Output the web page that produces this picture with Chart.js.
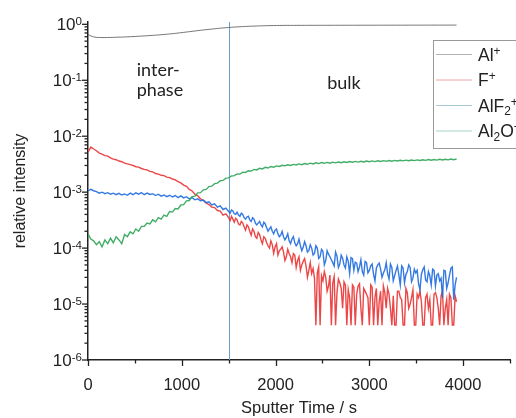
<!DOCTYPE html>
<html>
<head>
<meta charset="utf-8">
<title>ToF-SIMS depth profile</title>
<script src="https://cdn.jsdelivr.net/npm/chart.js@4"></script>
<style>
  html, body { margin: 0; padding: 0; background: #fff; }
</style>
</head>
<body>
<canvas id="depthProfile" width="516" height="418"></canvas>
<script>
// sputter time (s)
var time = [
  0, 30, 60, 90, 120, 150, 180, 210, 240, 270,
  300, 330, 360, 390, 420, 450, 480, 510, 540, 570,
  600, 630, 660, 690, 720, 750, 780, 810, 840, 870,
  900, 930, 960, 990, 1020, 1050, 1080, 1110, 1140, 1170,
  1200, 1230, 1260, 1290, 1320, 1350, 1380, 1410, 1440, 1470,
  1500, 1530, 1560, 1590, 1620, 1650, 1680, 1710, 1740, 1770,
  1800, 1830, 1860, 1890, 1920, 1950, 1980, 2010, 2040, 2070,
  2100, 2130, 2160, 2190, 2220, 2250, 2280, 2310, 2340, 2370,
  2400, 2430, 2460, 2490, 2520, 2550, 2580, 2610, 2640, 2670,
  2700, 2730, 2760, 2790, 2820, 2850, 2880, 2910, 2940, 2970,
  3000, 3030, 3060, 3090, 3120, 3150, 3180, 3210, 3240, 3270,
  3300, 3330, 3360, 3390, 3420, 3450, 3480, 3510, 3540, 3570,
  3600, 3630, 3660, 3690, 3720, 3750, 3780, 3810, 3840, 3870,
  3900, 3930
];

// extra in-between readings where F+ and AlF2+ get noisy
var halfStepTime = [
  1515, 1545, 1575, 1605, 1635, 1665, 1695, 1725, 1755, 1785,
  1815, 1845, 1875, 1905, 1935, 1965, 1995, 2025, 2055, 2085,
  2115, 2145, 2175, 2205, 2235, 2265, 2295, 2325, 2355, 2385,
  2415, 2445, 2475, 2505, 2535, 2565, 2595, 2625, 2655, 2685,
  2715, 2745, 2775, 2805, 2835, 2865, 2895, 2925, 2955, 2985,
  3015, 3045, 3075, 3105, 3135, 3165, 3195, 3225, 3255, 3285,
  3315, 3345, 3375, 3405, 3435, 3465, 3495, 3525, 3555, 3585,
  3615, 3645, 3675, 3705, 3735, 3765, 3795, 3825, 3855, 3885,
  3915
];

// relative intensities, one list per ion
var alPlus = [
  0.66, 0.62, 0.595, 0.585, 0.582, 0.58, 0.58, 0.581, 0.583, 0.585,
  0.587, 0.589, 0.591, 0.594, 0.597, 0.6, 0.604, 0.608, 0.612, 0.616,
  0.62, 0.625, 0.63, 0.635, 0.64, 0.646, 0.652, 0.658, 0.665, 0.672,
  0.68, 0.689, 0.698, 0.708, 0.718, 0.728, 0.738, 0.749, 0.76, 0.771,
  0.782, 0.792, 0.802, 0.812, 0.822, 0.832, 0.842, 0.852, 0.861, 0.869,
  0.877, 0.885, 0.892, 0.899, 0.905, 0.911, 0.916, 0.921, 0.926, 0.93,
  0.934, 0.938, 0.941, 0.944, 0.947, 0.949, 0.951, 0.953, 0.954, 0.955,
  0.956, 0.957, 0.956, 0.958, 0.957, 0.958, 0.959, 0.958, 0.959, 0.96,
  0.959, 0.96, 0.961, 0.96, 0.961, 0.96, 0.961, 0.962, 0.961, 0.962,
  0.962, 0.961, 0.962, 0.963, 0.962, 0.963, 0.962, 0.963, 0.963, 0.964,
  0.963, 0.964, 0.963, 0.964, 0.965, 0.964, 0.965, 0.964, 0.965, 0.965,
  0.966, 0.965, 0.966, 0.965, 0.966, 0.966, 0.967, 0.966, 0.967, 0.966,
  0.967, 0.967, 0.968, 0.967, 0.968, 0.967, 0.968, 0.968, 0.969, 0.968,
  0.969, 0.968
];

var fPlus = [
  5.2e-3, 6.4e-3, 5.9e-3, 5.5e-3, 5.0e-3, 4.8e-3, 4.5e-3, 4.4e-3, 4.1e-3, 3.9e-3,
  3.8e-3, 3.6e-3, 3.5e-3, 3.3e-3, 3.2e-3, 3.1e-3, 3.0e-3, 2.85e-3, 2.8e-3, 2.65e-3,
  2.55e-3, 2.5e-3, 2.35e-3, 2.3e-3, 2.15e-3, 2.1e-3, 2.0e-3, 1.98e-3, 1.86e-3, 1.82e-3,
  1.72e-3, 1.66e-3, 1.54e-3, 1.46e-3, 1.34e-3, 1.27e-3, 1.12e-3, 1.05e-3, 9.2e-4, 8.6e-4,
  7.6e-4, 7.1e-4, 6.4e-4, 6.0e-4, 5.4e-4, 5.3e-4, 4.7e-4, 4.6e-4, 3.9e-4, 4.1e-4,
  3.5e-4, 3.7e-4, 2.9e-4, 3.2e-4, 2.6e-4, 2.8e-4, 2.1e-4, 2.4e-4, 1.7e-4, 2.0e-4,
  1.5e-4, 1.75e-4, 1.2e-4, 1.5e-4, 1.1e-4, 1.35e-4, 8.0e-5, 1.2e-4, 9.0e-5, 1.05e-4,
  6.0e-5, 9.5e-5, 7.0e-5, 8.0e-5, 4.5e-5, 7.0e-5, 5.0e-5, 6.5e-5, 3.0e-5, 5.5e-5,
  4.3e-5, 4.2e-6, 4.6e-5, 3.2e-5, 3.8e-5, 1.7e-5, 3.3e-5, 2.4e-5, 4.2e-6, 2.8e-5,
  1.9e-5, 2.5e-5, 4.2e-6, 1.3e-5, 2.2e-5, 4.2e-6, 2.1e-5, 8.4e-6, 1.9e-5, 1.5e-5,
  4.2e-6, 2.0e-5, 1.3e-5, 4.2e-6, 1.7e-5, 2.1e-5, 8.4e-6, 1.5e-5, 4.2e-6, 4.2e-6,
  1.7e-5, 1.3e-5, 4.2e-6, 1.9e-5, 8.4e-6, 1.3e-5, 4.2e-6, 1.5e-5, 1.7e-5, 4.2e-6,
  1.3e-5, 8.4e-6, 4.2e-6, 1.5e-5, 1.3e-5, 4.2e-6, 1.7e-5, 8.4e-6, 4.2e-6, 1.3e-5,
  4.2e-6, 1.1e-5
];

var fPlusHalf = [
  3.1e-4, 3.3e-4, 3.4e-4, 2.7e-4, 3.0e-4, 2.4e-4, 2.6e-4, 2.0e-4, 2.2e-4, 1.6e-4,
  1.9e-4, 1.4e-4, 1.6e-4, 1.25e-4, 1.0e-4, 1.15e-4, 1.05e-4, 7.5e-5, 9.5e-5, 8.5e-5,
  7.0e-5, 8.0e-5, 5.5e-5, 7.5e-5, 6.0e-5, 4.0e-5, 5.8e-5, 4.8e-5, 4.0e-5, 3.5e-5,
  2.9e-5, 3.6e-5, 4.2e-6, 2.6e-5, 3.0e-5, 2.1e-5, 4.2e-6, 3.1e-5, 1.6e-5, 2.4e-5,
  8.4e-6, 2.2e-5, 1.8e-5, 4.2e-6, 2.0e-5, 1.5e-5, 2.3e-5, 4.2e-6, 1.7e-5, 1.3e-5,
  2.2e-5, 4.2e-6, 1.9e-5, 1.1e-5, 4.2e-6, 1.6e-5, 1.9e-5, 8.4e-6, 1.4e-5, 4.2e-6,
  1.7e-5, 1.2e-5, 4.2e-6, 1.6e-5, 1.0e-5, 1.8e-5, 4.2e-6, 1.3e-5, 1.1e-5, 4.2e-6,
  1.5e-5, 1.2e-5, 4.2e-6, 1.6e-5, 8.4e-6, 1.4e-5, 4.2e-6, 1.2e-5, 1.5e-5, 4.2e-6,
  1.4e-5
];

var alf2Plus = [
  1.05e-3, 1.12e-3, 1.06e-3, 1.02e-3, 9.6e-4, 1.0e-3, 9.4e-4, 9.8e-4, 9.2e-4, 9.6e-4,
  9.0e-4, 9.5e-4, 8.9e-4, 9.3e-4, 8.8e-4, 9.6e-4, 9.0e-4, 9.7e-4, 9.2e-4, 9.8e-4,
  9.0e-4, 9.6e-4, 9.1e-4, 9.4e-4, 8.7e-4, 9.2e-4, 8.5e-4, 8.9e-4, 8.3e-4, 8.8e-4,
  8.2e-4, 8.7e-4, 8.0e-4, 8.6e-4, 7.9e-4, 8.3e-4, 7.6e-4, 8.0e-4, 7.3e-4, 7.6e-4,
  7.0e-4, 7.2e-4, 6.5e-4, 6.7e-4, 5.9e-4, 6.2e-4, 5.4e-4, 5.7e-4, 4.9e-4, 5.2e-4,
  4.5e-4, 4.8e-4, 4.1e-4, 4.4e-4, 3.7e-4, 4.0e-4, 3.3e-4, 3.7e-4, 3.0e-4, 3.3e-4,
  2.6e-4, 3.0e-4, 2.4e-4, 2.7e-4, 2.0e-4, 2.4e-4, 1.8e-4, 2.2e-4, 1.6e-4, 2.0e-4,
  1.4e-4, 1.8e-4, 1.2e-4, 1.6e-4, 1.1e-4, 1.45e-4, 9.0e-5, 1.3e-4, 8.5e-5, 1.15e-4,
  7.5e-5, 1.1e-4, 6.5e-5, 9.5e-5, 5.0e-5, 9.0e-5, 7.0e-5, 5.5e-5, 8.5e-5, 4.5e-5,
  7.5e-5, 5.0e-5, 7.0e-5, 3.5e-5, 6.5e-5, 5.6e-5, 3.8e-5, 6.2e-5, 3.3e-5, 5.5e-5,
  4.0e-5, 5.2e-5, 2.6e-5, 5.0e-5, 4.2e-5, 3.6e-5, 5.5e-5, 2.8e-5, 4.5e-5, 3.2e-5,
  4.8e-5, 2.2e-5, 4.4e-5, 3.4e-5, 5.0e-5, 2.5e-5, 4.2e-5, 4.0e-5, 1.8e-5, 4.1e-5,
  2.7e-5, 3.8e-5, 2.2e-5, 4.0e-5, 3.3e-5, 2.6e-5, 1.3e-5, 3.9e-5, 2.4e-5, 4.4e-5,
  1.2e-5, 3.0e-5
];

var alf2PlusHalf = [
  4.2e-4, 4.6e-4, 4.0e-4, 3.9e-4, 4.2e-4, 3.5e-4, 3.6e-4, 3.2e-4, 3.5e-4, 2.8e-4,
  2.8e-4, 2.6e-4, 2.9e-4, 2.3e-4, 2.2e-4, 2.0e-4, 2.1e-4, 1.8e-4, 1.7e-4, 1.6e-4,
  1.55e-4, 1.35e-4, 1.45e-4, 1.25e-4, 1.2e-4, 1.1e-4, 1.05e-4, 1.1e-4, 9.0e-5, 1.0e-4,
  8.0e-5, 1.0e-4, 7.0e-5, 8.8e-5, 6.0e-5, 7.8e-5, 6.2e-5, 4.8e-5, 7.2e-5, 5.2e-5,
  6.6e-5, 4.4e-5, 5.8e-5, 6.8e-5, 4.0e-5, 5.4e-5, 4.6e-5, 3.8e-5, 5.8e-5, 3.6e-5,
  4.8e-5, 3.4e-5, 4.4e-5, 5.4e-5, 3.0e-5, 4.1e-5, 3.5e-5, 5.2e-5, 2.6e-5, 4.0e-5,
  3.3e-5, 4.8e-5, 2.4e-5, 3.8e-5, 4.5e-5, 2.9e-5, 3.6e-5, 2.3e-5, 3.4e-5, 4.6e-5,
  2.5e-5, 3.2e-5, 4.2e-5, 2.1e-5, 3.5e-5, 2.9e-5, 4.0e-5, 1.9e-5, 3.3e-5, 4.6e-5,
  2.2e-5
];

var al2oPlus = [
  1.8e-4, 1.45e-4, 1.35e-4, 1.15e-4, 1.3e-4, 1.05e-4, 1.4e-4, 1.2e-4, 1.5e-4, 1.25e-4,
  1.6e-4, 1.4e-4, 1.2e-4, 1.75e-4, 1.6e-4, 1.95e-4, 1.8e-4, 2.2e-4, 2.0e-4, 2.45e-4,
  2.45e-4, 2.8e-4, 2.7e-4, 3.2e-4, 2.95e-4, 3.5e-4, 3.3e-4, 3.9e-4, 3.7e-4, 4.5e-4,
  4.4e-4, 5.1e-4, 5.0e-4, 5.9e-4, 6.0e-4, 7.0e-4, 7.1e-4, 8.3e-4, 8.5e-4, 9.7e-4,
  9.8e-4, 1.1e-3, 1.12e-3, 1.26e-3, 1.28e-3, 1.42e-3, 1.45e-3, 1.6e-3, 1.62e-3, 1.78e-3,
  1.8e-3, 1.95e-3, 1.97e-3, 2.12e-3, 2.1e-3, 2.28e-3, 2.25e-3, 2.42e-3, 2.38e-3, 2.55e-3,
  2.5e-3, 2.68e-3, 2.6e-3, 2.78e-3, 2.7e-3, 2.88e-3, 2.8e-3, 2.95e-3, 2.88e-3, 3.02e-3,
  2.95e-3, 3.08e-3, 3.0e-3, 3.14e-3, 3.06e-3, 3.2e-3, 3.1e-3, 3.25e-3, 3.15e-3, 3.3e-3,
  3.2e-3, 3.34e-3, 3.24e-3, 3.38e-3, 3.28e-3, 3.4e-3, 3.3e-3, 3.44e-3, 3.34e-3, 3.46e-3,
  3.36e-3, 3.5e-3, 3.4e-3, 3.52e-3, 3.42e-3, 3.55e-3, 3.45e-3, 3.57e-3, 3.47e-3, 3.6e-3,
  3.5e-3, 3.62e-3, 3.52e-3, 3.64e-3, 3.54e-3, 3.66e-3, 3.56e-3, 3.68e-3, 3.58e-3, 3.7e-3,
  3.6e-3, 3.72e-3, 3.62e-3, 3.74e-3, 3.64e-3, 3.76e-3, 3.66e-3, 3.78e-3, 3.68e-3, 3.8e-3,
  3.7e-3, 3.82e-3, 3.72e-3, 3.84e-3, 3.74e-3, 3.86e-3, 3.76e-3, 3.88e-3, 3.78e-3, 3.9e-3,
  3.8e-3, 3.92e-3
];

// ^x = superscript, _x = subscript, {..} groups several characters
var seriesNames = ['Al^+', 'F^+', 'AlF_2^+', 'Al_2O^+'];
var xTickLabels = [0, 1000, 2000, 3000, 4000];
var yExponents = [0, -1, -2, -3, -4, -5, -6];
var boundaryTime = 1500;
var regionText = [
  { text: 'inter-', x: 520, y: 0.118 },
  { text: 'phase', x: 520, y: 0.052 },
  { text: 'bulk', x: 2550, y: 0.069 }
];

var lineColors = ['rgba(95,95,95,0.85)', 'rgba(234,50,50,0.9)', 'rgba(30,106,224,0.9)', 'rgba(44,164,86,0.9)'];
var lineWidths = [1, 1.4, 1.4, 1.4];
var legendColors = ['#b2b2b2', '#eca4a4', '#a8c9d6', '#a6d4c3'];
var ARIAL = 'Arial, "Liberation Sans", sans-serif';
var INK = '#222';

function points(ts, vals) {
  return ts.map(function (t, k) { return { x: t, y: vals[k] }; });
}

function merged(mainVals, halfVals) {
  return points(time, mainVals).concat(points(halfStepTime, halfVals))
    .sort(function (a, b) { return a.x - b.x; });
}

// draw (or just measure) text with ^sup and _sub pieces, returns width
function richText(ctx, markup, x, baseline, size, draw) {
  var parts = markup.match(/\^\{[^}]*\}|\^.|_\{[^}]*\}|_.|[^\^_]+/g);
  var cx = x;
  parts.forEach(function (p) {
    var txt = p, fs = size, dy = 0;
    if (p[0] === '^' || p[0] === '_') {
      txt = p.slice(1).replace(/[{}]/g, '');
      fs = size * 0.68;
      dy = p[0] === '^' ? -size * 0.32 : size * 0.2;
    }
    ctx.font = fs + 'px ' + ARIAL;
    if (draw) ctx.fillText(txt, cx, baseline + dy);
    cx += ctx.measureText(txt).width;
  });
  return cx - x;
}

var decorations = {
  id: 'decorations',
  beforeDatasetsDraw: function (chart) {
    var ctx = chart.ctx, area = chart.chartArea;
    var bx = chart.scales.x.getPixelForValue(boundaryTime);
    ctx.save();
    ctx.strokeStyle = 'rgb(100,160,210)';
    ctx.lineWidth = 1;
    ctx.beginPath();
    ctx.moveTo(Math.round(bx) + 0.5, area.top);
    ctx.lineTo(Math.round(bx) + 0.5, area.bottom);
    ctx.stroke();
    ctx.restore();
  },
  afterDraw: function (chart) {
    var ctx = chart.ctx, area = chart.chartArea;
    var x = chart.scales.x, y = chart.scales.y;
    ctx.save();
    ctx.strokeStyle = INK;
    ctx.fillStyle = INK;
    ctx.lineWidth = 1.3;

    // x ticks, major + minor
    for (var t = 0; t <= 4500; t += 500) {
      var px = Math.round(x.getPixelForValue(t)) + 0.5;
      var len = t % 1000 === 0 ? 6 : 3.5;
      ctx.beginPath();
      ctx.moveTo(px, area.bottom);
      ctx.lineTo(px, area.bottom + len);
      ctx.stroke();
    }

    // y ticks + 10^n labels
    ctx.textBaseline = 'alphabetic';
    ctx.textAlign = 'left';
    yExponents.forEach(function (e) {
      var py = y.getPixelForValue(Math.pow(10, e));
      ctx.beginPath();
      ctx.moveTo(area.left, py);
      ctx.lineTo(area.left - 6, py);
      ctx.stroke();
      if (e < 0) {
        for (var m = 2; m <= 9; m++) {
          var pm = y.getPixelForValue(m * Math.pow(10, e));
          ctx.beginPath();
          ctx.moveTo(area.left, pm);
          ctx.lineTo(area.left - 3.5, pm);
          ctx.stroke();
        }
      }
      var label = '10^{' + e + '}';
      var w = richText(ctx, label, 0, 0, 17, false);
      richText(ctx, label, area.left - 6 - w, py + 6, 17, true);
    });

    // region captions
    ctx.font = '18px Lato, "Open Sans", sans-serif';
    regionText.forEach(function (r) {
      ctx.fillText(r.text, x.getPixelForValue(r.x), y.getPixelForValue(r.y));
    });

    // legend box (runs off the right edge like the original)
    var lx = 433.5, ly = 40.5;
    ctx.fillStyle = '#fff';
    ctx.fillRect(lx, ly, 120, 108);
    ctx.strokeStyle = '#999';
    ctx.lineWidth = 1;
    ctx.strokeRect(lx, ly, 120, 108);
    seriesNames.forEach(function (name, i) {
      var cy = 54.5 + i * 25.5;
      ctx.strokeStyle = legendColors[i];
      ctx.beginPath();
      ctx.moveTo(436, cy);
      ctx.lineTo(472, cy);
      ctx.stroke();
      ctx.fillStyle = INK;
      richText(ctx, name, 478, cy + 6, 17.5, true);
    });
    ctx.restore();
  }
};

var seriesPoints = [
  points(time, alPlus),
  merged(fPlus, fPlusHalf),
  merged(alf2Plus, alf2PlusHalf),
  points(time, al2oPlus)
];

new Chart(document.getElementById('depthProfile'), {
  type: 'line',
  data: {
    datasets: seriesPoints.map(function (pts, i) {
      return {
        label: seriesNames[i],
        data: pts,
        borderColor: lineColors[i],
        borderWidth: lineWidths[i],
        pointRadius: 0,
        tension: 0,
        order: 3 - i
      };
    })
  },
  options: {
    responsive: false,
    animation: false,
    layout: { padding: { top: 22, right: 6, left: 0, bottom: 0 } },
    plugins: {
      legend: { display: false },
      tooltip: { enabled: false }
    },
    scales: {
      x: {
        type: 'linear',
        min: 0,
        max: 4500,
        afterBuildTicks: function (s) {
          s.ticks = xTickLabels.map(function (v) { return { value: v }; });
        },
        afterFit: function (s) { s.height = 58; },
        grid: { display: false, drawTicks: true, tickLength: 6 },
        border: { display: true, color: INK, width: 1.5 },
        ticks: {
          color: INK,
          padding: 10,
          maxRotation: 0,
          autoSkip: false,
          font: { family: ARIAL, size: 16.5 },
          callback: function (v) { return String(v); }
        },
        title: {
          display: true,
          text: 'Sputter Time / s',
          color: INK,
          font: { family: ARIAL, size: 16.5 },
          padding: { top: 0, bottom: 0 }
        }
      },
      y: {
        type: 'logarithmic',
        min: 1e-6,
        max: 1.1,
        afterBuildTicks: function (s) {
          s.ticks = yExponents.map(function (e) { return { value: Math.pow(10, e) }; });
        },
        afterFit: function (s) { s.width = 88; },
        grid: { display: false },
        border: { display: true, color: INK, width: 1.5 },
        ticks: { display: false },
        title: {
          display: true,
          text: 'relative intensity',
          color: INK,
          font: { family: ARIAL, size: 16 },
          padding: { top: 11, bottom: 0 }
        }
      }
    }
  },
  plugins: [decorations]
});
</script>
</body>
</html>
